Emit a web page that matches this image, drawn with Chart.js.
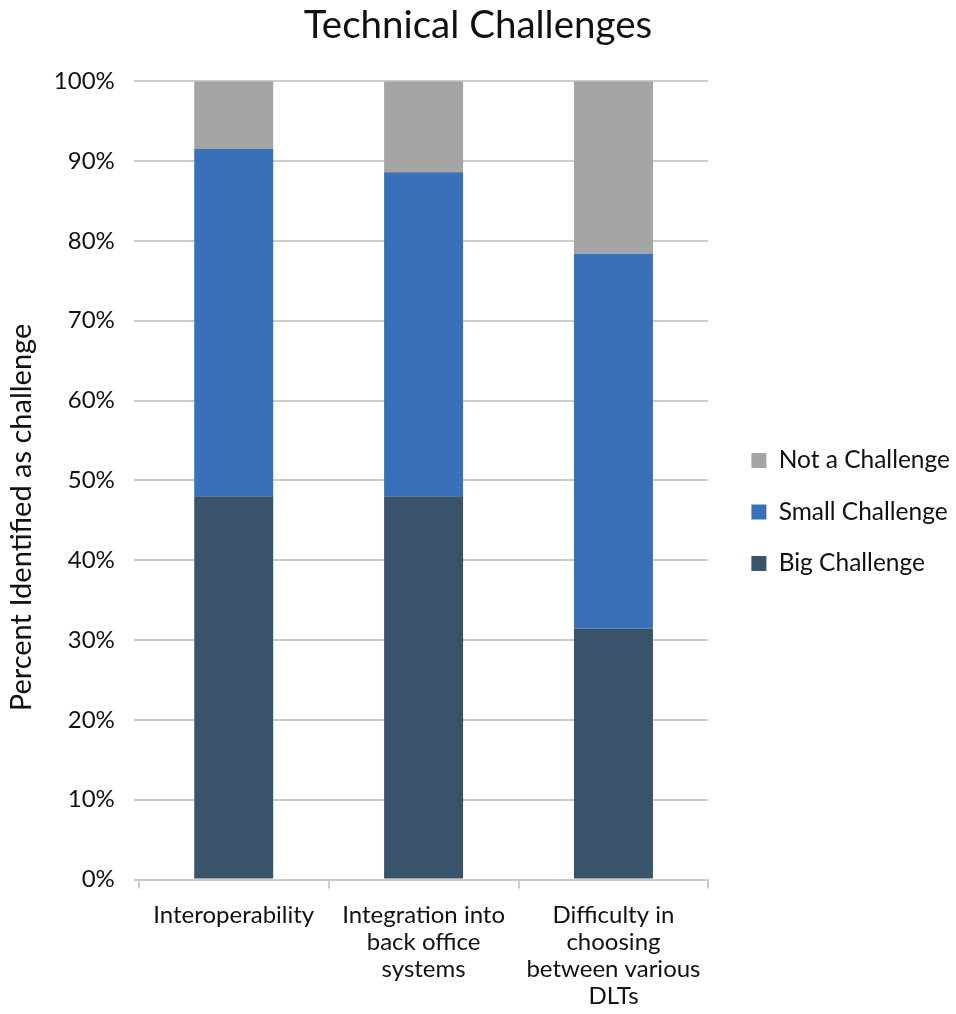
<!DOCTYPE html>
<html>
<head>
<meta charset="utf-8">
<script src="https://cdn.jsdelivr.net/npm/chart.js@4"></script>
<style>
  html, body { margin: 0; padding: 0; background: #fff; }
  #wrap { width: 956px; height: 1014px; position: relative; }
</style>
</head>
<body>
<div id="wrap"><canvas id="chart"></canvas></div>
<script>
// chart data
const categories = [
    'Interoperability',
    ['Integration into', 'back office', 'systems'],
    ['Difficulty in', 'choosing', 'between various', 'DLTs']
];
const bigChallenge = [48, 48, 31.4];
const smallChallenge = [43.5, 40.6, 47.0];
const notAChallenge = [8.5, 11.4, 21.6];
const yTicks = [0, 10, 20, 30, 40, 50, 60, 70, 80, 90, 100];

const FONT = 'Lato, "Noto Sans", sans-serif';
const gridGray = '#cccccc';
const LEGEND_GAP = 12;
const LEGEND_SHIFT = 16;
const LEGEND_DROP = 8;

// leave a bit more room between the plot and the legend
const legendGap = {
    id: 'legendGap',
    afterInit(chart) {
        const lg = chart.legend;
        const fit = lg.fit;
        const draw = lg.draw;
        lg.fit = function () {
            fit.call(this);
            this.width += LEGEND_GAP;
        };
        lg.draw = function () {
            this.left += LEGEND_SHIFT;
            this.top += LEGEND_DROP;
            draw.call(this);
            this.left -= LEGEND_SHIFT;
            this.top -= LEGEND_DROP;
        };
    }
};

const chart = new Chart(document.getElementById('chart'), {
    type: 'bar',
    data: {
        labels: categories,
        datasets: [
            { label: 'Big Challenge', data: bigChallenge, backgroundColor: '#39536b' },
            { label: 'Small Challenge', data: smallChallenge, backgroundColor: '#3a70b9' },
            { label: 'Not a Challenge', data: notAChallenge, backgroundColor: '#a5a5a5' }
        ]
    },
    options: {
        responsive: true,
        maintainAspectRatio: false,
        animation: false,
        layout: { padding: { top: 2, right: 0, bottom: 0, left: 0 } },
        datasets: {
            bar: { categoryPercentage: 0.8, barPercentage: 0.52 }
        },
        plugins: {
            title: {
                display: true,
                text: 'Technical Challenges',
                color: '#111',
                font: { family: FONT, size: 38.5, weight: 'normal' },
                padding: { top: 0, bottom: 33 }
            },
            legend: {
                position: 'right',
                reverse: true,
                labels: {
                    color: '#111',
                    font: { family: FONT, size: 24.5 },
                    boxWidth: 15,
                    boxHeight: 15,
                    padding: 27
                }
            },
            tooltip: { enabled: false }
        },
        scales: {
            x: {
                stacked: true,
                grid: {
                    display: true,
                    drawOnChartArea: false,
                    offset: true,
                    color: gridGray,
                    lineWidth: 2,
                    tickLength: 9
                },
                border: { color: gridGray, width: 2 },
                ticks: {
                    color: '#111',
                    maxRotation: 0,
                    autoSkip: false,
                    padding: 13,
                    font: { family: FONT, size: 24, lineHeight: 1.13 }
                },
                afterFit: (scale) => { scale.height -= 9; }
            },
            y: {
                stacked: true,
                min: 0,
                max: 100,
                afterBuildTicks: (axis) => {
                    axis.ticks = yTicks.map(v => ({ value: v }));
                },
                afterFit: (scale) => { scale.width -= 4; },
                grid: {
                    color: gridGray,
                    lineWidth: 2,
                    tickLength: 5
                },
                border: { display: false },
                ticks: {
                    color: '#111',
                    padding: 19,
                    font: { family: FONT, size: 24 },
                    callback: (v) => v + '%'
                },
                title: {
                    display: true,
                    // trailing spaces push the title down a little, as in the original
                    text: 'Percent Identified as challenge          ',
                    color: '#111',
                    font: { family: FONT, size: 29 },
                    padding: { top: 4, bottom: 0 }
                }
            }
        }
    },
    plugins: [legendGap]
});
</script>
</body>
</html>
